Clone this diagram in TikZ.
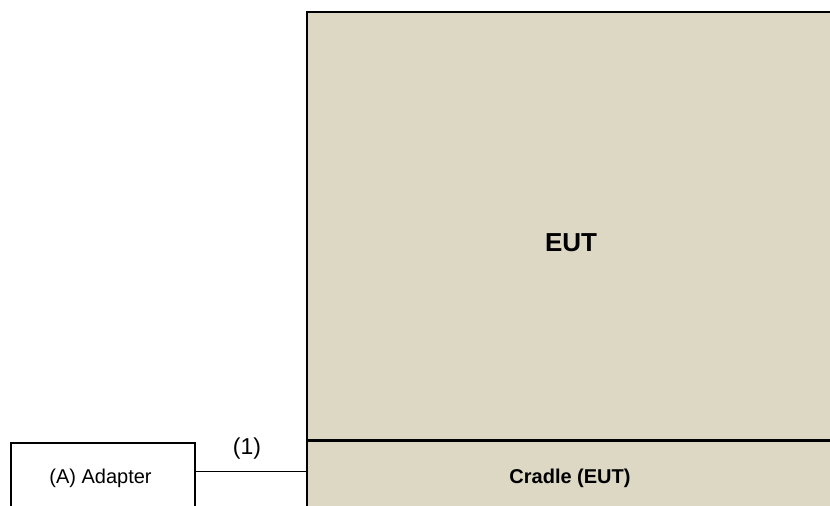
\documentclass[tikz,border=0pt]{standalone}
\usepackage{fontspec}
\setmainfont{Liberation Sans}
\definecolor{eutfill}{HTML}{DDD8C3}
\begin{document}
\begin{tikzpicture}[x=1pt,y=-1pt,
  box/.style={draw=black, line width=2pt, inner sep=0pt, anchor=north west},
  eutbox/.style={box, fill=eutfill},
  conn/.style={draw=black, line width=1pt}]
\useasboundingbox (0,0) rectangle (830,506);
\clip (0,0) rectangle (830,506);
\node[eutbox, minimum width=526pt, minimum height=429pt] (eut) at (306,11) {};
\node[font=\fontsize{26}{30}\selectfont\bfseries] (euttext) at (571,243) {EUT};
\node[eutbox, minimum width=526pt, minimum height=74pt] (cradle) at (306,440) {\fontsize{20}{24}\selectfont\bfseries Cradle (EUT)};
\node[box, minimum width=184pt, minimum height=70pt] (adapter) at (10,442) {\fontsize{20}{24}\selectfont (A) Adapter\hspace*{5pt}};
\coordinate (c1) at (0,471);
\draw[conn] (adapter.east |- c1) -- (cradle.west |- c1);
\node[font=\fontsize{23}{27}\selectfont] (lbl) at (247,449) {(1)};
\draw[line width=2.5pt] (cradle.north west) -- (cradle.north east);
\end{tikzpicture}
\end{document}
